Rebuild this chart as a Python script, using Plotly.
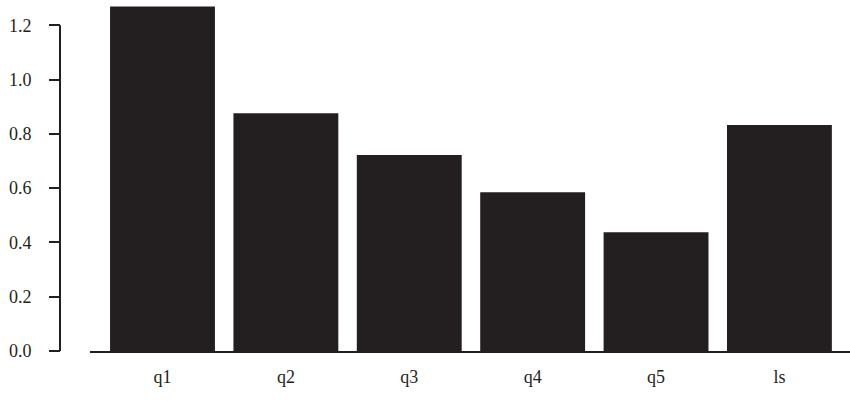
import plotly.graph_objects as go

categories = ["q1", "q2", "q3", "q4", "q5", "ls"]
values = [1.269, 0.876, 0.722, 0.585, 0.438, 0.833]
y_ticks = [0.0, 0.2, 0.4, 0.6, 0.8, 1.0, 1.2]
y_tick_text = ["0.0", "0.2", "0.4", "0.6", "0.8", "1.0", "1.2"]

W, H = 850, 401
FONT = "Liberation Serif"
DARK = "#231f20"

fig = go.Figure(go.Bar(
    x=categories, y=values,
    marker=dict(color=DARK, line=dict(width=0)),
    width=0.85,
))

fig.update_layout(
    width=W, height=H,
    margin=dict(l=0, r=0, t=0, b=50),
    paper_bgcolor="white", plot_bgcolor="white",
    showlegend=False,
    font=dict(family=FONT, size=18, color=DARK),
    xaxis=dict(
        domain=[90 / W, 1],
        range=[-0.5875, 5.572],
        showline=True, linecolor=DARK, linewidth=2,
        ticks="", showgrid=False, zeroline=False,
        tickfont=dict(family=FONT, size=18, color=DARK),
        ticklabelstandoff=8,
    ),
    yaxis=dict(
        anchor="free", position=60 / W,
        range=[0, 1.2933],
        tickvals=y_ticks, ticktext=y_tick_text,
        ticks="outside", ticklen=11, tickwidth=2, tickcolor=DARK,
        showline=False, showgrid=False, zeroline=False,
        tickfont=dict(family=FONT, size=18, color=DARK),
        ticklabelstandoff=14,
    ),
    shapes=[dict(
        type="line", xref="paper", yref="y",
        x0=60 / W, x1=60 / W, y0=y_ticks[0], y1=y_ticks[-1],
        line=dict(color=DARK, width=2),
    )],
)

fig.write_html(
    "out.html",
    config={"displayModeBar": False},
    post_script="document.body.style.margin='0';",
)
